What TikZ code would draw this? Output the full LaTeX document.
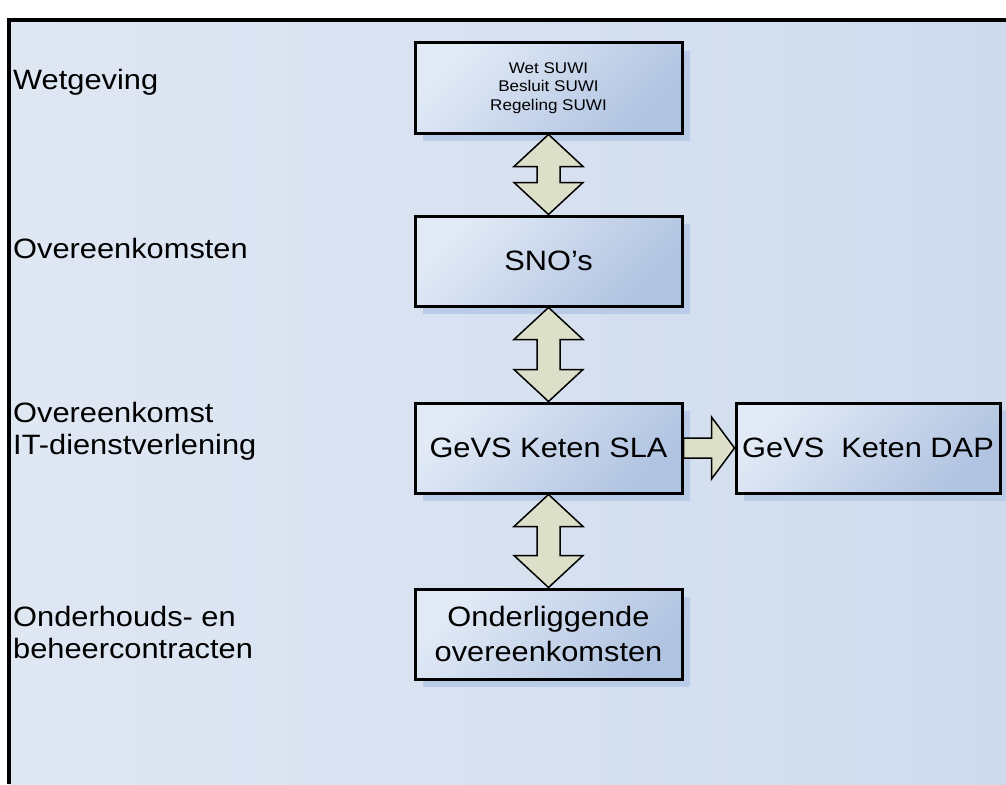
\documentclass[tikz,border=0pt]{standalone}
\usepackage{fontspec}
\setmainfont{Liberation Sans}[FakeStretch=1.1]
\usepackage{tikz}
\usetikzlibrary{positioning}
\usetikzlibrary{shadows}
\usetikzlibrary{calc}
\definecolor{bgLeft}{RGB}{223,231,243}
\definecolor{bgRight}{RGB}{207,219,237}
\definecolor{boxLight}{RGB}{226,234,246}
\definecolor{boxDark}{RGB}{176,195,225}
\definecolor{shadowBlue}{RGB}{185,203,230}
\definecolor{arrowFill}{RGB}{221,224,200}
\tikzstyle{layer} = [font={\fontsize{28}{32}\selectfont}, align=left, anchor=west, inner sep=0pt]
\tikzstyle{box} = [draw, line width=3pt, minimum width=267pt, minimum height=90pt,
        inner sep=2pt, align=center, top color=boxLight, bottom color=boxDark, shading angle=45,
        drop shadow={shadow xshift=8pt, shadow yshift=-8pt, fill=shadowBlue, opacity=1},
        font={\fontsize{28}{35}\selectfont}]
\tikzstyle{fat} = [draw, line width=1.5pt, fill=arrowFill, line join=miter]
% fat double arrow between two stacked boxes
\newcommand{\updown}[2]{%
  \draw[fat] let \p1=(#1.south), \p2=(#2.north) in
    (\p1) -- (\x1+34.5pt,\y1-32pt) -- (\x1+11.5pt,\y1-32pt) -- (\x1+11.5pt,\y2+32pt)
    -- (\x1+34.5pt,\y2+32pt) -- (\x1,\y2) -- (\x1-34.5pt,\y2+32pt) -- (\x1-11.5pt,\y2+32pt)
    -- (\x1-11.5pt,\y1-32pt) -- (\x1-34.5pt,\y1-32pt) -- cycle;}

\begin{document}
\begin{tikzpicture}[x=1pt, y=-1pt]
    \useasboundingbox (0,0) rectangle (1006,784);
    \fill[white] (0,0) rectangle (1006,784);
    \fill[left color=bgLeft, right color=bgRight] (9,20) rectangle (1006,784);
    \draw[line width=3.5pt] (9,784) -- (9,20) -- (1006,20);

    \node[layer] (lwet) at (13,82) {Wetgeving};
    \node[layer] (lsno) at (13,248) {Overeenkomsten};
    \node[layer] (lsla) at (13,431) {Overeenkomst\\IT-dienstverlening};
    \node[layer] (lond) at (13,632) {Onderhouds- en\\beheercontracten};

    \node[box, font={\fontsize{15.5}{18.5}\selectfont}] (wet) at (548.5,88) {Wet SUWI\\Besluit SUWI\\Regeling SUWI};
    \node[box, below=80pt of wet] (sno) {SNO’s};
    \node[box, below=94pt of sno] (sla) {GeVS Keten SLA};
    \node[box, below=93pt of sla] (onder) {Onderliggende\\overeenkomsten};
    \node[box, minimum width=264pt, right=51pt of sla] (dap) {GeVS\ \ Keten DAP};

    \updown{wet}{sno}
    \updown{sno}{sla}
    \updown{sla}{onder}
    \draw[fat] let \p1=(sla.east), \p2=(dap.west) in
        (\x1,\y1+10pt) -- (\x2-23pt,\y1+10pt) -- (\x2-23pt,\y1+31pt) -- (\p2)
        -- (\x2-23pt,\y1-31pt) -- (\x2-23pt,\y1-10pt) -- (\x1,\y1-10pt) -- cycle;
\end{tikzpicture}
\end{document}
